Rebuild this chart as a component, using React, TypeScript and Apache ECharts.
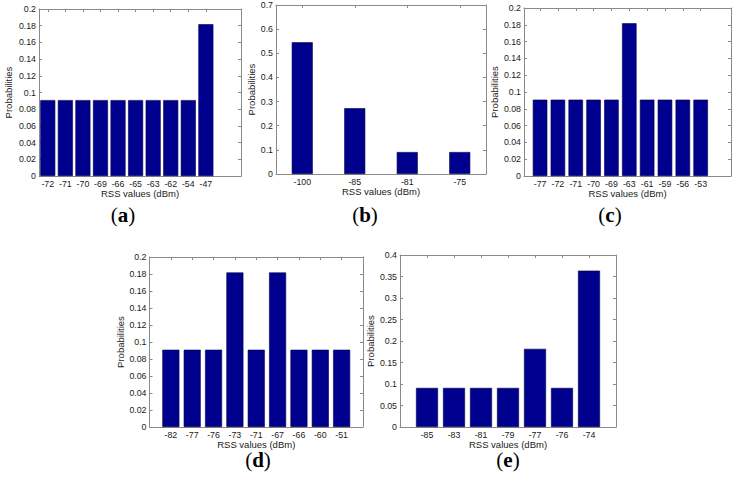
import React, { useEffect, useRef } from "react";
import * as echarts from "echarts";

// ---- data ----
const catsA = ["-72", "-71", "-70", "-69", "-66", "-65", "-63", "-62", "-54", "-47"];
const valsA = [0.0909, 0.0909, 0.0909, 0.0909, 0.0909, 0.0909, 0.0909, 0.0909, 0.0909, 0.1818];

const catsB = ["-100", "-85", "-81", "-75"];
const valsB = [0.5455, 0.2727, 0.0909, 0.0909];

const catsC = ["-77", "-72", "-71", "-70", "-69", "-63", "-61", "-59", "-56", "-53"];
const valsC = [0.0909, 0.0909, 0.0909, 0.0909, 0.0909, 0.1818, 0.0909, 0.0909, 0.0909, 0.0909];

const catsD = ["-82", "-77", "-76", "-73", "-71", "-67", "-66", "-60", "-51"];
const valsD = [0.0909, 0.0909, 0.0909, 0.1818, 0.0909, 0.1818, 0.0909, 0.0909, 0.0909];

const catsE = ["-85", "-83", "-81", "-79", "-77", "-76", "-74"];
const valsE = [0.0909, 0.0909, 0.0909, 0.0909, 0.1818, 0.0909, 0.3636];

const tags = ["a", "b", "c", "d", "e"];
const xName = "RSS values (dBm)";
const yName = "Probabilities";

// ---- layout ----
const panels = [
  { cats: catsA, vals: valsA, xMin: 0.5, xMax: 12, yMax: 0.2, yStep: 0.02, barW: 15,
    grid: { left: 39, top: 9, width: 202, height: 167 }, yGap: 26, tagX: 123, tagY: 215 },
  { cats: catsB, vals: valsB, xMin: 0.5, xMax: 4.5, yMax: 0.7, yStep: 0.1, barW: 21,
    grid: { left: 276, top: 5, width: 210, height: 169 }, yGap: 18, tagX: 365, tagY: 215 },
  { cats: catsC, vals: valsC, xMin: 0.1, xMax: 11.7, yMax: 0.2, yStep: 0.02, barW: 14.5,
    grid: { left: 524, top: 8, width: 207, height: 168 }, yGap: 21, tagX: 610, tagY: 215 },
  { cats: catsD, vals: valsD, xMin: 0, xMax: 10, yMax: 0.2, yStep: 0.02, barW: 17,
    grid: { left: 149.5, top: 257, width: 213.5, height: 170 }, yGap: 21, tagX: 258, tagY: 460 },
  { cats: catsE, vals: valsE, xMin: 0, xMax: 8, yMax: 0.4, yStep: 0.05, barW: 22,
    grid: { left: 400, top: 255, width: 216, height: 172 }, yGap: 20, tagX: 508, tagY: 460 },
];

const FONT = "Liberation Sans, Arial, Helvetica, sans-serif";
const AXIS_COLOR = "#8a8a8a";
const TEXT_COLOR = "#1a1a1a";
const BAR_COLOR = "#00008f";

export default function App() {
  const ref = useRef<HTMLDivElement>(null);

  useEffect(() => {
    if (!ref.current) return;
    const chart = echarts.init(ref.current, undefined, { renderer: "svg" });

    const grids: any[] = [];
    const xAxes: any[] = [];
    const yAxes: any[] = [];
    const series: any[] = [];
    const graphics: any[] = [];

    const line = { show: true, onZero: false, lineStyle: { color: AXIS_COLOR, width: 1 } };

    panels.forEach((p, i) => {
      grids.push({ ...p.grid, containLabel: false });
      const positions = p.cats.map((_, k) => k + 1);
      const fmt = (v: number) => p.cats[Math.round(v) - 1] ?? "";
      // bottom x axis with labels
      xAxes.push({
        type: "value",
        gridIndex: i,
        min: p.xMin,
        max: p.xMax,
        position: "bottom",
        name: xName,
        nameLocation: "middle",
        nameGap: 12,
        nameTextStyle: { fontFamily: FONT, fontSize: 9.5, color: TEXT_COLOR },
        axisLine: line,
        axisTick: { show: true, inside: true, length: 3, customValues: positions, lineStyle: { color: AXIS_COLOR } },
        axisLabel: { show: true, customValues: positions, formatter: fmt, margin: 3, fontFamily: FONT, fontSize: 8.8, color: TEXT_COLOR },
        splitLine: { show: false },
      });
      // top x axis (ticks only)
      xAxes.push({
        type: "value",
        gridIndex: i,
        min: p.xMin,
        max: p.xMax,
        position: "top",
        axisLine: line,
        axisTick: { show: true, inside: true, length: 3, customValues: positions, lineStyle: { color: AXIS_COLOR } },
        axisLabel: { show: false },
        splitLine: { show: false },
      });
      // left y axis with labels
      yAxes.push({
        type: "value",
        gridIndex: i,
        min: 0,
        max: p.yMax,
        interval: p.yStep,
        position: "left",
        name: yName,
        nameLocation: "middle",
        nameGap: p.yGap,
        nameTextStyle: { fontFamily: FONT, fontSize: 9.5, color: TEXT_COLOR },
        axisLine: line,
        axisTick: { show: true, inside: true, length: 3, lineStyle: { color: AXIS_COLOR } },
        axisLabel: {
          show: true, margin: 3, fontFamily: FONT, fontSize: 8.8, color: TEXT_COLOR,
          formatter: (v: number) => String(+v.toFixed(3)),
        },
        splitLine: { show: false },
      });
      // right y axis (ticks only)
      yAxes.push({
        type: "value",
        gridIndex: i,
        min: 0,
        max: p.yMax,
        interval: p.yStep,
        position: "right",
        axisLine: line,
        axisTick: { show: true, inside: true, length: 3, lineStyle: { color: AXIS_COLOR } },
        axisLabel: { show: false },
        splitLine: { show: false },
      });
      series.push({
        type: "bar",
        xAxisIndex: i * 2,
        yAxisIndex: i * 2,
        barWidth: p.barW,
        data: p.vals.map((v, k) => [k + 1, v]),
        itemStyle: { color: BAR_COLOR, borderColor: "#00004a", borderWidth: 0.6 },
        silent: true,
      });
      graphics.push({
        type: "text",
        x: p.tagX,
        y: p.tagY,
        style: {
          text: `{p|(}{b|${tags[i]}}{p|)}`,
          align: "center",
          verticalAlign: "middle",
          rich: {
            p: { fontFamily: "Liberation Serif, Times New Roman, serif", fontSize: 21, fill: "#000", fontWeight: "normal" },
            b: { fontFamily: "Liberation Serif, Times New Roman, serif", fontSize: 21, fill: "#000", fontWeight: "bold" },
          },
        },
      });
    });

    chart.setOption({
      animation: false,
      backgroundColor: "#ffffff",
      grid: grids,
      xAxis: xAxes,
      yAxis: yAxes,
      series,
      graphic: graphics,
    });

    return () => chart.dispose();
  }, []);

  return (
    <div
      ref={ref}
      style={{ position: "absolute", left: 0, top: 0, width: 740, height: 484, background: "#fff" }}
    />
  );
}
